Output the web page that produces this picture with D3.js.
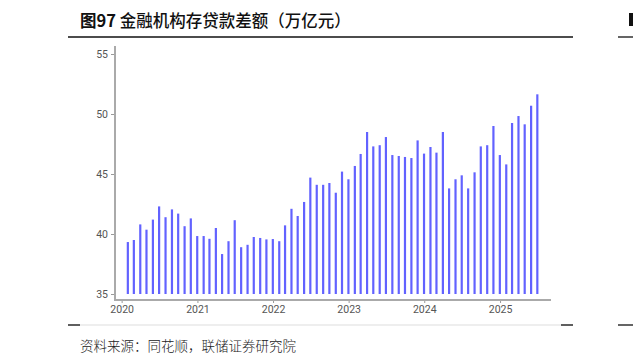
<!DOCTYPE html>
<html>
<head>
<meta charset="utf-8">
<script src="https://cdn.jsdelivr.net/npm/d3@7"></script>
<style>
  html, body { margin: 0; padding: 0; background: #fff; }
  svg { display: block; }
</style>
</head>
<body>
<div id="wrapper"></div>
<script>
const titleLabel = "图97"
const titleText = " 金融机构存贷款差额（万亿元）"
const sourceText = "资料来源：同花顺，联储证券研究院"

const startYear = 2020
const values2020 = [39.33, 39.5, 40.8, 40.36, 41.2, 42.3, 41.4, 42.05, 41.7, 40.65, 41.3, 39.83]
const values2021 = [39.83, 39.6, 40.5, 38.33, 39.4, 41.15, 38.9, 39.1, 39.75, 39.67, 39.55, 39.58]
const values2022 = [39.4, 40.72, 42.1, 41.5, 42.67, 44.7, 44.1, 44.1, 44.25, 43.44, 45.2, 44.56]
const values2023 = [45.67, 46.67, 48.5, 47.3, 47.4, 48.08, 46.58, 46.5, 46.42, 46.33, 47.8, 46.7]
const values2024 = [47.25, 46.78, 48.5, 43.8, 44.56, 44.89, 43.8, 45.14, 47.3, 47.4, 49.0, 46.58]
const values2025 = [45.8, 49.25, 49.83, 49.14, 50.69, 51.64]

const yTicks = [35, 40, 45, 50, 55]
const xTickYears = [2020, 2021, 2022, 2023, 2024, 2025]

// monthly values, each bar sits at month end
const data = [values2020, values2021, values2022, values2023, values2024, values2025]
  .flat()
  .map((v, i) => ({ date: new Date(startYear, i + 1, 0), value: v }))

const xAccessor = d => d.date
const yAccessor = d => d.value

const width = 633
const height = 359

const svg = d3.select("#wrapper")
  .append("svg")
    .attr("width", width)
    .attr("height", height)

// title + rules
const title = svg.append("text")
    .attr("x", 80)
    .attr("y", 27)
    .style("font-family", "'Noto Sans CJK SC', sans-serif")
    .style("font-size", "16.5px")
    .attr("fill", "#111")
title.append("tspan").style("font-weight", 700).text(titleLabel)
title.append("tspan").style("font-weight", 500).text(titleText)

svg.append("line")
    .attr("x1", 68).attr("x2", 573)
    .attr("y1", 37).attr("y2", 37)
    .attr("stroke", "#111").attr("stroke-width", 1.3)
svg.append("line")
    .attr("x1", 618).attr("x2", 633)
    .attr("y1", 37).attr("y2", 37)
    .attr("stroke", "#111").attr("stroke-width", 1.3)
svg.append("rect")
    .attr("x", 629).attr("y", 13).attr("width", 4).attr("height", 13)
    .attr("fill", "#111")

// bottom rule
svg.append("line")
    .attr("x1", 68).attr("x2", 573)
    .attr("y1", 325).attr("y2", 325)
    .attr("stroke", "#ddd").attr("stroke-width", 1)
;[[68, 80], [561, 573], [618, 633]].forEach(([a, b]) => {
  svg.append("line")
      .attr("x1", a).attr("x2", b)
      .attr("y1", 325).attr("y2", 325)
      .attr("stroke", "#111").attr("stroke-width", 1.3)
})

svg.append("text")
    .attr("x", 80)
    .attr("y", 351)
    .style("font-family", "'Noto Sans CJK SC', sans-serif")
    .style("font-size", "13.5px")
    .style("font-weight", 300)
    .attr("fill", "#222")
    .text(sourceText)

// scales
const plot = { left: 115, right: 551, top: 46, axisY: 300 }

const xScale = d3.scaleTime()
  .domain([new Date(2019, 10, 30), new Date(2025, 8, 4)])
  .range([plot.left, plot.right])

const yScale = d3.scaleLinear()
  .domain([35, 55])
  .range([294, 54])

// bars
svg.append("g")
  .selectAll("line")
  .data(data)
  .join("line")
    .attr("x1", d => xScale(xAccessor(d)))
    .attr("x2", d => xScale(xAccessor(d)))
    .attr("y1", yScale(35))
    .attr("y2", d => yScale(yAccessor(d)))
    .attr("stroke", "#6262ff")
    .attr("stroke-width", 2.2)

// axes
const yAxis = svg.append("g")
    .attr("transform", `translate(${plot.left},0)`)
    .call(d3.axisLeft(yScale).tickValues(yTicks).tickSize(4).tickPadding(3))
yAxis.select(".domain").remove()

const xAxis = svg.append("g")
    .attr("transform", `translate(0,${plot.axisY})`)
    .call(d3.axisBottom(xScale)
      .tickValues(xTickYears.map(y => new Date(y, 0, 1)))
      .tickFormat(d3.timeFormat("%Y"))
      .tickSize(3).tickPadding(3))
xAxis.select(".domain").remove()

;[xAxis, yAxis].forEach(ax => {
  ax.selectAll(".tick line").attr("stroke", "#999")
  ax.selectAll(".tick text")
    .attr("fill", "#555")
    .style("font-family", "Roboto, 'Liberation Sans', sans-serif")
    .style("font-size", "10.5px")
})

svg.append("line")
    .attr("x1", plot.left).attr("x2", plot.left)
    .attr("y1", plot.top).attr("y2", plot.axisY + 1)
    .attr("stroke", "#aaa").attr("stroke-width", 2)
svg.append("line")
    .attr("x1", plot.left).attr("x2", plot.right)
    .attr("y1", plot.axisY).attr("y2", plot.axisY)
    .attr("stroke", "#aaa").attr("stroke-width", 2)
</script>
</body>
</html>
